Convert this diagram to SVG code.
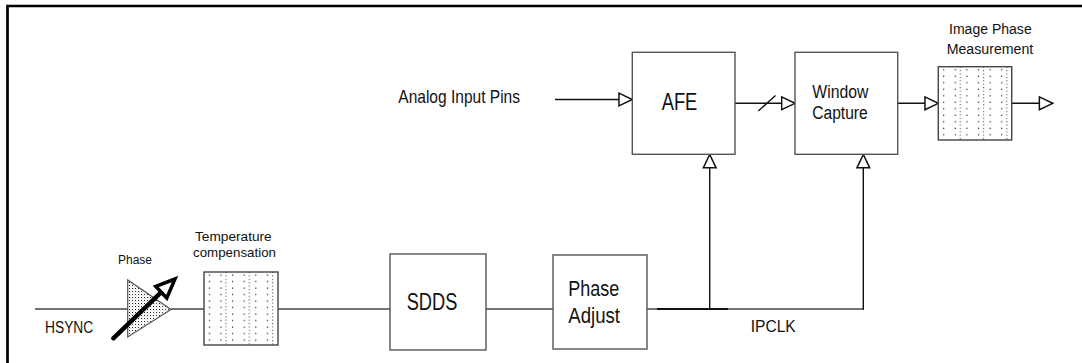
<svg xmlns="http://www.w3.org/2000/svg" width="1082" height="363" viewBox="0 0 1082 363">
<style>
text{font-family:"Liberation Sans",Arial,Helvetica,sans-serif;fill:#111}
.box{fill:#fff;stroke:#555;stroke-width:1.4}
.wire{fill:none;stroke:#444;stroke-width:1.5}
.arr{fill:none;stroke:#111;stroke-width:1.4}
</style>
<defs>
<marker id="ah" markerUnits="userSpaceOnUse" markerWidth="16" markerHeight="16" viewBox="-1 -1 15 15" refX="12.5" refY="6" orient="auto">
<path d="M0,0 L12.5,6 L0,12 Z" fill="#fff" stroke="#111" stroke-width="1.4"/>
</marker>
<pattern id="dots" patternUnits="userSpaceOnUse" width="11.6" height="6.5" x="0" y="0">
<rect x="4.8" y="2.5" width="1.2" height="1.2" fill="#222"/>
</pattern>
<pattern id="vdash" patternUnits="userSpaceOnUse" width="23.3" height="3.4" x="0" y="0">
<rect x="21.6" y="0" width="0.9" height="1.1" fill="#333"/>
</pattern>
<pattern id="stip" patternUnits="userSpaceOnUse" width="3" height="3">
<rect x="0" y="0" width="1" height="1" fill="#222"/>
<rect x="1.5" y="1.5" width="0.7" height="0.7" fill="#888"/>
</pattern>
</defs>
<rect width="1082" height="363" fill="#fff"/>
<path d="M7.5,363 V6 H1082" fill="none" stroke="#000" stroke-width="2.7"/>

<g id="connectors">
<line class="wire" x1="35" y1="309" x2="127.7" y2="309"/>
<line class="wire" x1="171" y1="309" x2="204" y2="309"/>
<line class="wire" x1="278" y1="309" x2="390" y2="309"/>
<line class="wire" x1="486" y1="309" x2="553" y2="309"/>
<line class="wire" x1="647" y1="309" x2="864" y2="309"/>
<line x1="657" y1="309" x2="728" y2="309" stroke="#111" stroke-width="2.2"/>
<line class="arr" x1="709.7" y1="309" x2="709.7" y2="154.5" marker-end="url(#ah)"/>
<line class="arr" x1="863.3" y1="309.7" x2="863.3" y2="154.5" marker-end="url(#ah)"/>
<line class="arr" x1="555" y1="99.5" x2="632.3" y2="99.5" marker-end="url(#ah)"/>
<line class="arr" x1="735" y1="103.3" x2="795" y2="103.3" marker-end="url(#ah)"/>
<line class="arr" x1="758.3" y1="111" x2="775.5" y2="95.6"/>
<line class="arr" x1="898" y1="103.3" x2="938.3" y2="103.3" marker-end="url(#ah)"/>
<line class="arr" x1="1012" y1="103.3" x2="1052.7" y2="103.3" marker-end="url(#ah)"/>
</g>

<g id="phase-shifter">
<polygon points="127.7,280 127.7,337 171,309.5" fill="url(#stip)" stroke="#555" stroke-width="1.2"/>
<line x1="113.3" y1="338.3" x2="161.3" y2="292.2" stroke="#000" stroke-width="4.5" stroke-linecap="round"/>
<polygon points="155.8,286.4 175,279 166.8,298" fill="#fff" stroke="#000" stroke-width="3.5" stroke-linejoin="miter"/>
<text x="118" y="264" font-size="12.5" textLength="34" lengthAdjust="spacingAndGlyphs">Phase</text>
</g>

<g id="temp-comp">
<g transform="translate(204,272)">
<rect width="74" height="73" fill="#fff"/>
<rect width="74" height="73" fill="url(#dots)"/>
<rect width="74" height="73" fill="url(#vdash)"/>
<rect width="74" height="73" fill="none" stroke="#444" stroke-width="1.4"/>
</g>
<text x="195" y="241" font-size="13.5" textLength="76.7" lengthAdjust="spacingAndGlyphs">Temperature</text>
<text x="193" y="257" font-size="13.5" textLength="83" lengthAdjust="spacingAndGlyphs">compensation</text>
</g>

<g id="hsync-label">
<text x="45" y="333" font-size="16" textLength="48.3" lengthAdjust="spacingAndGlyphs">HSYNC</text>
</g>

<g id="sdds">
<rect class="box" x="390" y="254" width="96" height="96"/>
<text x="406.7" y="310" font-size="23" textLength="50.6" lengthAdjust="spacingAndGlyphs">SDDS</text>
</g>

<g id="phase-adjust">
<rect class="box" x="553" y="255" width="94" height="94"/>
<text x="568.3" y="296" font-size="22" textLength="51" lengthAdjust="spacingAndGlyphs">Phase</text>
<text x="568.3" y="322.7" font-size="22" textLength="51.7" lengthAdjust="spacingAndGlyphs">Adjust</text>
</g>

<g id="ipclk-label">
<text x="750.7" y="331.7" font-size="16.5" textLength="45" lengthAdjust="spacingAndGlyphs">IPCLK</text>
</g>

<g id="analog-label">
<text x="398.3" y="103" font-size="19" textLength="121.7" lengthAdjust="spacingAndGlyphs">Analog Input Pins</text>
</g>

<g id="afe">
<rect class="box" x="632.3" y="52.3" width="102.7" height="102"/>
<text x="661.7" y="110" font-size="23" textLength="35.6" lengthAdjust="spacingAndGlyphs">AFE</text>
</g>

<g id="window-capture">
<rect class="box" x="795" y="52.3" width="102.7" height="102"/>
<text x="812.3" y="97.7" font-size="18" textLength="56" lengthAdjust="spacingAndGlyphs">Window</text>
<text x="812.3" y="119.3" font-size="18" textLength="55.4" lengthAdjust="spacingAndGlyphs">Capture</text>
</g>

<g id="image-phase">
<g transform="translate(938.3,66.7)">
<rect width="73.4" height="73.3" fill="#fff"/>
<rect width="73.4" height="73.3" fill="url(#dots)"/>
<rect width="73.4" height="73.3" fill="url(#vdash)"/>
<rect width="73.4" height="73.3" fill="none" stroke="#444" stroke-width="1.4"/>
</g>
<text x="949" y="34" font-size="15.5" textLength="82.7" lengthAdjust="spacingAndGlyphs">Image Phase</text>
<text x="946.7" y="54.3" font-size="15.5" textLength="86.6" lengthAdjust="spacingAndGlyphs">Measurement</text>
</g>
</svg>
